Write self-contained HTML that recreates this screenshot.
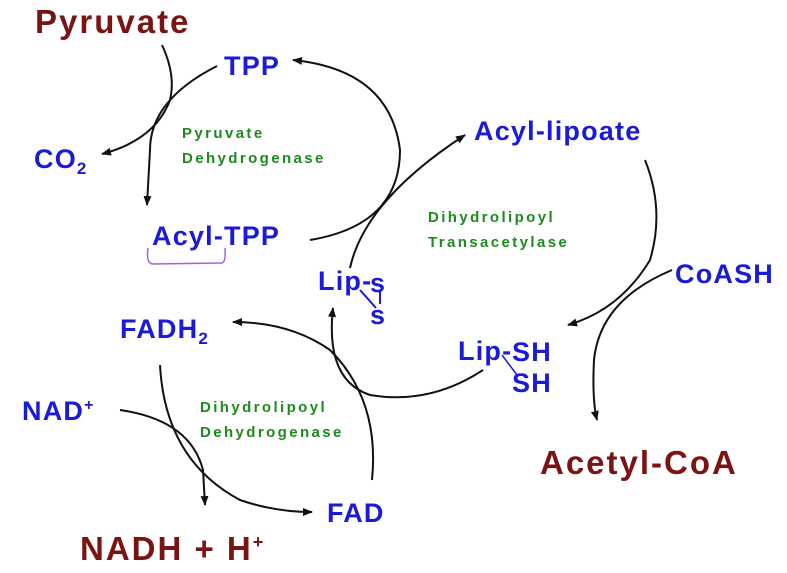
<!DOCTYPE html>
<html><head><style>
body{margin:0;background:#fff}
svg{display:block}
text{font-family:"Liberation Sans",sans-serif;font-weight:bold}
.b{fill:#1a1ad8;font-size:27px;letter-spacing:1.2px}
.r{fill:#7a1414;font-size:33px;letter-spacing:2px}
.g{fill:#1e8a1e;font-size:15px;letter-spacing:2.4px}
path{fill:none;stroke:#111;stroke-width:2}
</style></head><body>
<svg width="787" height="573" viewBox="0 0 787 573">
<defs><marker id="a" markerWidth="10" markerHeight="8" refX="9" refY="4" orient="auto" markerUnits="userSpaceOnUse"><path d="M0,0L10,4L0,8z" style="fill:#111;stroke:none"/></marker></defs>
<text x="35" y="33" class="r">Pyruvate</text>
<text x="224" y="75" class="b" font-size="28">TPP</text>
<text x="34" y="168" class="b">CO<tspan font-size="17" dy="6">2</tspan></text>
<text x="182" y="138" class="g">Pyruvate</text>
<text x="182" y="163" class="g">Dehydrogenase</text>
<text x="152" y="245" class="b" font-size="28">Acyl-TPP</text>
<path d="M148,248 Q146,262 152,264 L222,263 Q226,262 225,248" style="stroke:#a060e0;stroke-width:1.5"/>
<text x="474" y="140" class="b" font-size="27">Acyl-lipoate</text>
<text x="428" y="222" class="g">Dihydrolipoyl</text>
<text x="428" y="247" class="g">Transacetylase</text>
<text x="675" y="283" class="b">CoASH</text>
<text x="318" y="290" class="b">Lip-</text>
<text x="370" y="292" class="b" font-size="22">s</text>
<text x="370" y="324" class="b" font-size="22">s</text>
<path d="M360,290 L376,308 M380,290 L380,304" style="stroke:#1a1ad8;stroke-width:2"/>
<text x="458" y="360" class="b">Lip-</text>
<text x="512" y="361" class="b" font-size="20">SH</text>
<text x="512" y="392" class="b" font-size="20">SH</text>
<path d="M502,355 L517,375" style="stroke:#1a1ad8;stroke-width:1.5"/>
<text x="120" y="338" class="b">FADH<tspan font-size="17" dy="6">2</tspan></text>
<text x="200" y="412" class="g">Dihydrolipoyl</text>
<text x="200" y="437" class="g">Dehydrogenase</text>
<text x="22" y="420" class="b">NAD<tspan font-size="16" dy="-10">+</tspan></text>
<text x="327" y="522" class="b">FAD</text>
<text x="540" y="474" class="r">Acetyl-CoA</text>
<text x="80" y="560" class="r">NADH + H<tspan font-size="18" dy="-12">+</tspan></text>

<path d="M162,45 Q176,75 170,100 Q155,140 102,154" marker-end="url(#a)"/>
<path d="M217,66 Q150,100 150,150 L147,205" marker-end="url(#a)"/>
<path d="M310,240 Q400,225 400,150 Q390,70 293,60" marker-end="url(#a)"/>
<path d="M350,268 Q365,200 465,135" marker-end="url(#a)"/>
<path d="M645,160 Q665,210 650,260 Q620,310 568,325" marker-end="url(#a)"/>
<path d="M672,270 Q600,300 594,360 Q592,400 597,420" marker-end="url(#a)"/>
<path d="M483,370 Q430,405 370,395 Q325,380 333,308" marker-end="url(#a)"/>
<path d="M372,480 Q380,400 330,350 Q290,322 233,322" marker-end="url(#a)"/>
<path d="M160,365 Q165,460 240,500 Q275,512 312,512" marker-end="url(#a)"/>
<path d="M120,410 Q190,420 203,470 L205,505" marker-end="url(#a)"/>
</svg>
</body></html>
